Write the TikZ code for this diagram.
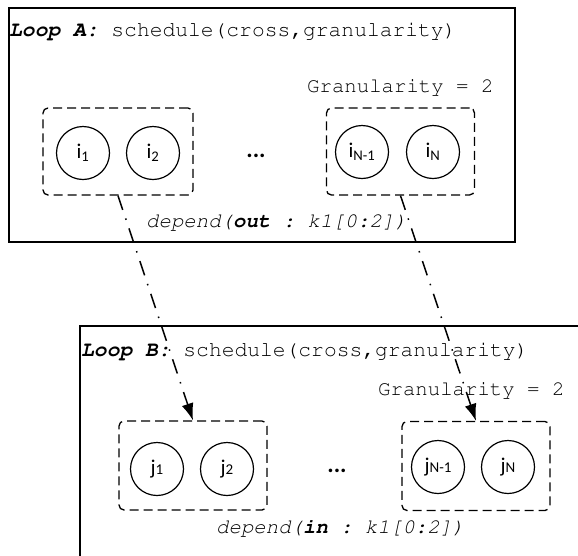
\documentclass[tikz,border=0pt]{standalone}
\usepackage[T1,TU]{fontenc}
\usepackage{fontspec}
\newfontfamily\circfont{Carlito}
\usetikzlibrary{arrows.meta}
\frenchspacing
\newcommand{\courierfont}{\fontencoding{T1}\fontfamily{pcr}\selectfont\frenchspacing}
\newcommand{\sub}[1]{\textsubscript{#1}}
\newcommand{\lowsub}[1]{{\fontsize{15}{15}\selectfont #1}}
\begin{document}
\begin{tikzpicture}[x=1pt,y=-1pt,
  loopbox/.style={draw,line width=1.4pt,inner sep=0pt},
  grp/.style={draw,dash pattern=on 9pt off 5pt,line width=1.3pt,rounded corners=5pt,inner sep=0pt,minimum height=87pt},
  iter/.style={circle,draw,line width=1.2pt,minimum size=53pt,inner sep=0pt,font=\circfont\fontsize{21}{24}\selectfont},
  title/.style={font=\courierfont\fontsize{21.3}{24}\selectfont,inner sep=0pt,anchor=base west},
  mono/.style={font=\courierfont\fontsize{20.7}{24}\selectfont,inner sep=0pt,anchor=base west},
  ell/.style={font=\circfont\bfseries\fontsize{24}{28}\selectfont,inner sep=0pt,anchor=base},
  dep/.style={line width=1.5pt,dash pattern=on 15pt off 9pt on 1.5pt off 9pt,-{Latex[length=17pt,width=12pt]}},
]
\useasboundingbox (0,0) rectangle (578,555);
\fill[white] (0,0) rectangle (578,555);
\clip (0,0) rectangle (578,555);

% Loop A
\node[loopbox,minimum width=506pt,minimum height=234pt] (loopA) at (262,125) {};
\node[title] (titleA) at (9,36) {\textbf{\textit{Loop A:}} schedule(cross,granularity)};
\node[mono] (granA) at (307,92) {Granularity = 2};
\node[grp,minimum width=150pt] (gA1) at (118,151.5) {};
\node[grp,minimum width=148pt] (gA2) at (400.5,151.5) {};
\node[iter] (i1) at (83,153) {i\sub{1}};
\node[iter] (i2) at (153,153) {i\sub{2}};
\node[iter] (iN1) at (362,152) {i\sub{N-1}};
\node[iter] (iN) at (433,152) {i\sub{N}};
\node[ell] (dotsA) at (256,157.5) {...};
\node[mono] (depA) at (146,227) {\textit{depend(\textbf{out} : k1[0:2])}};

% Loop B (runs past the page edge)
\coordinate (bl) at (80,600);
\coordinate (tl) at (80,326);
\coordinate (tr) at (620,326);
\draw[line width=1.4pt] (bl) -- (tl) -- (tr);
\node[title] (titleB) at (81,356) {\textbf{\textit{Loop B:}} schedule(cross,granularity)};
\node[mono] (granB) at (378,395) {Granularity = 2};
\node[grp,minimum width=148pt,minimum height=89pt] (gB1) at (193,465.5) {};
\node[grp,minimum width=148pt,minimum height=89pt] (gB2) at (476,466) {};
\node[iter] (j1) at (157,469) {j\lowsub{1}};
\node[iter] (j2) at (227,469) {j\lowsub{2}};
\node[iter] (jN1) at (438,467) {j\lowsub{N-1}};
\node[iter] (jN) at (508,467) {j\lowsub{N}};
\node[ell] (dotsB) at (337,472) {...};
\node[mono] (depB) at (216,533) {\textit{depend(\textbf{in} : k1[0:2])}};

% dependences between the chunks
\draw[dep] (gA1.south) -- (gB1.north);
\draw[dep] (gA2.south) -- (gB2.north);
\end{tikzpicture}
\end{document}
